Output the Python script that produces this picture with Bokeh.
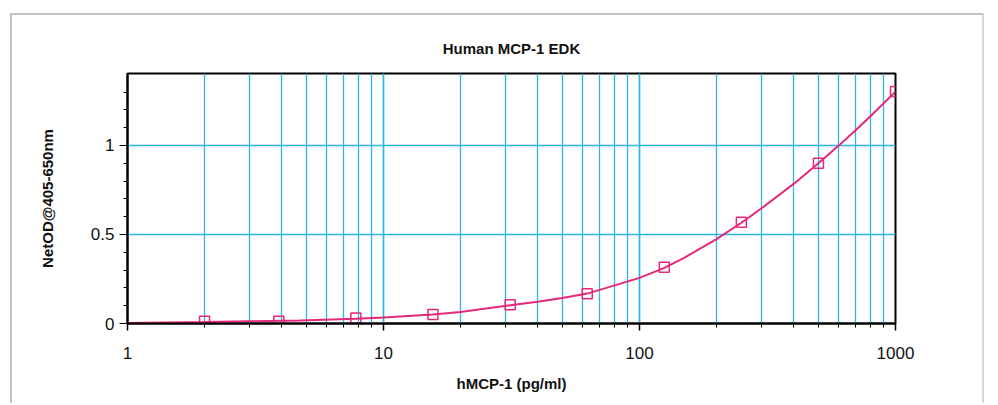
from bokeh.plotting import figure
from bokeh.models import FixedTicker, NumeralTickFormatter, Range1d
from bokeh.embed import file_html
from bokeh.resources import INLINE

# standards
conc = [2, 3.9, 7.8, 15.6, 31.25, 62.5, 125, 250, 500, 1000]
od = [0.012, 0.012, 0.031, 0.050, 0.106, 0.167, 0.316, 0.569, 0.900, 1.303]

# fitted curve, points
curve_x = [1, 2, 3, 4.7, 7.8, 10, 15.6, 20, 31.25, 40, 50, 62.5, 80, 100,
           125, 150, 200, 250, 300, 400, 500, 600, 700, 800, 1000]
curve_y = [0.003, 0.008, 0.012, 0.017, 0.027, 0.034, 0.050, 0.064, 0.102,
           0.122, 0.143, 0.168, 0.214, 0.256, 0.312, 0.370, 0.474, 0.566,
           0.647, 0.784, 0.900, 0.999, 1.087, 1.165, 1.302]

y_major = [0, 0.5, 1]
y_minor = [0.1, 0.2, 0.3, 0.4, 0.6, 0.7, 0.8, 0.9, 1.1, 1.2, 1.3]

pink = "#E5287A"
grid_blue = "#2FB4E6"
font = "Liberation Sans"
text_col = "#111111"

p = figure(width=974, height=390, x_axis_type="log",
           x_range=Range1d(1, 1000), y_range=Range1d(0, 1.404),
           output_backend="svg", toolbar_location=None,
           title="Human MCP-1 EDK",
           min_border_left=115, min_border_right=91,
           min_border_top=58, min_border_bottom=82)
p.margin = (13, 0, 0, 10)
p.styles = {"border-top": "2px solid #c4c4c4",
            "border-left": "2px solid #c4c4c4",
            "border-right": "2px solid #d8d8d8"}

p.title.align = "center"
p.title.text_font = font
p.title.text_font_size = "15px"
p.title.text_font_style = "bold"
p.title.text_color = text_col
p.title.standoff = 33

p.outline_line_color = "black"
p.outline_line_width = 2
p.outline_line_alpha = 1

# grids
p.xgrid.grid_line_color = grid_blue
p.xgrid.grid_line_width = 1.5
p.xgrid.minor_grid_line_color = grid_blue
p.xgrid.minor_grid_line_width = 1.3
p.ygrid.ticker = FixedTicker(ticks=y_major)
p.ygrid.grid_line_color = grid_blue
p.ygrid.grid_line_width = 1.5

# x axis
xa = p.xaxis[0]
xa.axis_label = "hMCP-1 (pg/ml)"
xa.formatter = NumeralTickFormatter(format="0")
xa.axis_line_width = 2
xa.major_tick_out = 7
xa.major_tick_in = 0
xa.minor_tick_out = 4
xa.minor_tick_in = 0
xa.major_tick_line_width = 1.5
xa.major_label_text_font = font
xa.major_label_text_font_size = "17px"
xa.major_label_text_color = text_col
xa.major_label_standoff = 16
xa.axis_label_text_font = font
xa.axis_label_text_font_size = "15px"
xa.axis_label_text_font_style = "bold"
xa.axis_label_text_color = text_col
xa.axis_label_standoff = 13

# y axis
ya = p.yaxis[0]
ya.axis_label = "NetOD@405-650nm"
ya.ticker = FixedTicker(ticks=y_major, minor_ticks=y_minor)
ya.formatter = NumeralTickFormatter(format="0.[0]")
ya.axis_line_width = 2
ya.major_tick_out = 8
ya.major_tick_in = 0
ya.minor_tick_out = 4
ya.minor_tick_in = 0
ya.major_label_text_font = font
ya.major_label_text_font_size = "17px"
ya.major_label_text_color = text_col
ya.major_label_standoff = 5
ya.axis_label_text_font = font
ya.axis_label_text_font_size = "15px"
ya.axis_label_text_font_style = "bold"
ya.axis_label_text_color = text_col
ya.axis_label_standoff = 32

p.line(curve_x, curve_y, line_color=pink, line_width=2)
p.scatter(conc, od, marker="square", size=10, line_color=pink, line_width=1.5,
          fill_color=None)

open("out.html", "w").write(file_html(p, INLINE))
